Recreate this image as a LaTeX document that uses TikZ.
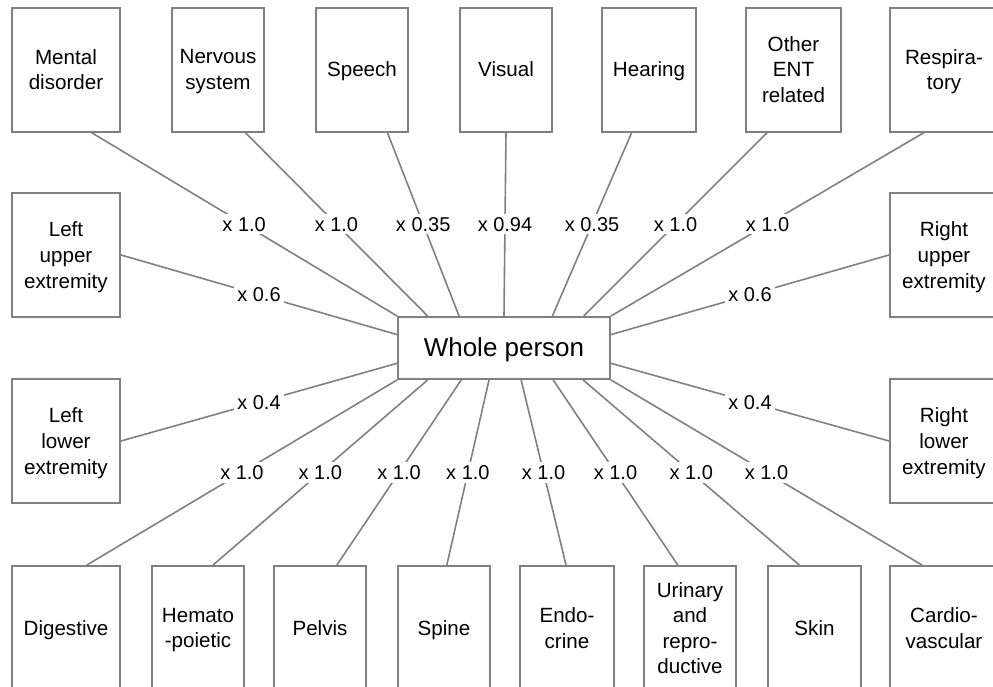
\documentclass[tikz,border=0pt]{standalone}
\usepackage{fontspec}
\setmainfont{Liberation Sans}
\usetikzlibrary{calc}
\definecolor{lc}{RGB}{128,128,128}
\tikzset{
  box/.style={draw=lc, line width=1pt, minimum height=62pt, align=center,
    inner sep=1pt, text depth=0pt, font=\fontsize{10.3}{12.8}\selectfont},
  wbox/.style={box, minimum width=54pt},
  nbox/.style={box, minimum width=46pt},
  conn/.style={draw=lc, line width=0.8pt},
  lab/.style={fill=white, inner sep=1.5pt, font=\fontsize{10}{12}\selectfont},
  center/.style={draw=lc, line width=1pt, minimum width=106pt, minimum height=31pt,
    inner sep=0pt, text depth=0.5pt, font=\fontsize{13}{15}\selectfont}
}
\begin{document}
\begin{tikzpicture}[x=0.5pt,y=-0.5pt]
\useasboundingbox (0,0) rectangle (993,687);
\clip (0,0) rectangle (993,687);
% center
\node[center] (wp) at (504,348) {Whole person};
% top row
\node[wbox] (md) at (66,69.5) {Mental\\disorder};
\node[nbox] (ns) at (218,69.5) {Nervous\\system};
\node[nbox] (sp) at (362,69.5) {Speech};
\node[nbox] (vi) at (506,69.5) {Visual};
\node[nbox, minimum width=47pt] (he) at (649,69.5) {Hearing};
\node[nbox, minimum width=47.5pt] (en) at (793.5,69.5) {Other\\ENT\\related};
\node[wbox] (re) at (944,69.5) {Respira-\\tory};
% sides
\node[wbox] (lu) at (66,255) {Left\\upper\\extremity};
\node[wbox] (ll) at (66,441) {Left\\lower\\extremity};
\node[wbox] (ru) at (944,255) {Right\\upper\\extremity};
\node[wbox] (rl) at (944,441) {Right\\lower\\extremity};
% bottom row
\node[wbox] (di) at (66,628) {Digestive};
\node[nbox] (hm) at (198,628) {Hemato\\-poietic};
\node[nbox] (pe) at (320,628) {Pelvis};
\node[nbox] (si) at (444,628) {Spine};
\node[nbox, minimum width=47pt] (ec) at (567,628) {Endo-\\crine};
\node[nbox] (ur) at (690,628) {Urinary\\and\\repro-\\ductive};
\node[nbox, minimum width=46.5pt] (sk) at (814.5,628) {Skin};
\node[wbox] (cv) at (944,628) {Cardio-\\vascular};
% top connectors
\draw[conn] ($(md.south west)!0.73!(md.south east)$) -- node[lab]{x 1.0} (wp.north west);
\draw[conn] ($(ns.south west)!0.79!(ns.south east)$) -- node[lab]{x 1.0} ($(wp.north west)!0.143!(wp.north east)$);
\draw[conn] ($(sp.south west)!0.77!(sp.south east)$) -- node[lab]{x 0.35} ($(wp.north west)!0.29!(wp.north east)$);
\draw[conn] ($(vi.south west)!0.5!(vi.south east)$) -- node[lab]{x 0.94} ($(wp.north west)!0.5!(wp.north east)$);
\draw[conn] ($(he.south west)!0.32!(he.south east)$) -- node[lab]{x 0.35} ($(wp.north west)!0.726!(wp.north east)$);
\draw[conn] ($(en.south west)!0.23!(en.south east)$) -- node[lab]{x 1.0} ($(wp.north west)!0.873!(wp.north east)$);
\draw[conn] ($(re.south west)!0.32!(re.south east)$) -- node[lab]{x 1.0} (wp.north east);
% side connectors
\draw[conn] (lu.east) -- node[lab]{x 0.6} ($(wp.north west)!0.29!(wp.south west)$);
\draw[conn] (ll.east) -- node[lab]{x 0.4} ($(wp.north west)!0.74!(wp.south west)$);
\draw[conn] (ru.west) -- node[lab]{x 0.6} ($(wp.north east)!0.29!(wp.south east)$);
\draw[conn] (rl.west) -- node[lab]{x 0.4} ($(wp.north east)!0.74!(wp.south east)$);
% bottom connectors
\draw[conn] ($(di.north west)!0.69!(di.north east)$) -- node[lab]{x 1.0} (wp.south west);
\draw[conn] ($(hm.north west)!0.66!(hm.north east)$) -- node[lab]{x 1.0} ($(wp.south west)!0.143!(wp.south east)$);
\draw[conn] ($(pe.north west)!0.68!(pe.north east)$) -- node[lab]{x 1.0} ($(wp.south west)!0.3!(wp.south east)$);
\draw[conn] ($(si.north west)!0.53!(si.north east)$) -- node[lab]{x 1.0} ($(wp.south west)!0.43!(wp.south east)$);
\draw[conn] ($(ec.north west)!0.49!(ec.north east)$) -- node[lab]{x 1.0} ($(wp.south west)!0.58!(wp.south east)$);
\draw[conn] ($(ur.north west)!0.37!(ur.north east)$) -- node[lab]{x 1.0} ($(wp.south west)!0.73!(wp.south east)$);
\draw[conn] ($(sk.north west)!0.34!(sk.north east)$) -- node[lab]{x 1.0} ($(wp.south west)!0.87!(wp.south east)$);
\draw[conn] ($(cv.north west)!0.30!(cv.north east)$) -- node[lab]{x 1.0} (wp.south east);
\end{tikzpicture}
\end{document}
